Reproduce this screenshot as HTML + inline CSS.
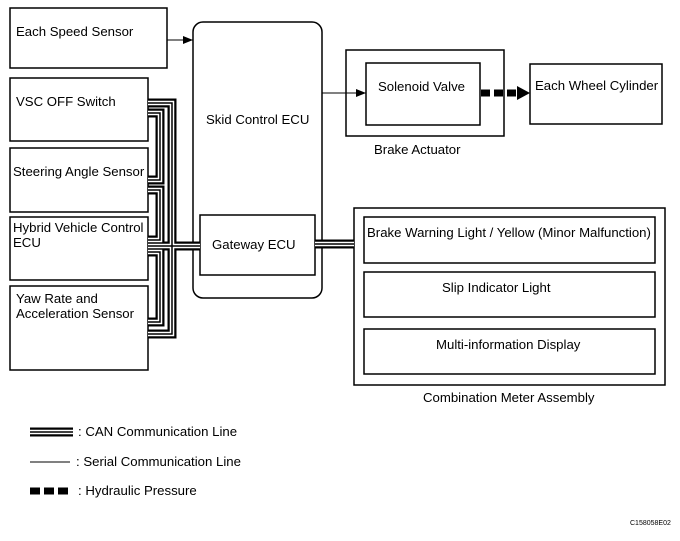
<!DOCTYPE html>
<html><head><style>
body{margin:0;background:#fff;}
svg text{font-family:"Liberation Sans",Arial,sans-serif;font-size:13.2px;fill:#000;}
</style></head><body>
<svg width="680" height="536" viewBox="0 0 680 536" xmlns="http://www.w3.org/2000/svg">
<defs>
<marker id="a" markerWidth="10" markerHeight="8" refX="10" refY="4" orient="auto" markerUnits="userSpaceOnUse"><path d="M0,0 L10,4 L0,8 z" fill="#000"/></marker>
</defs>
<g fill="none" stroke="#000" stroke-width="1.5">
<rect x="10" y="8" width="157" height="60"/>
<rect x="10" y="78" width="138" height="63"/>
<rect x="10" y="148" width="138" height="64"/>
<rect x="10" y="217" width="138" height="63"/>
<rect x="10" y="286" width="138" height="84"/>
<rect x="193" y="22" width="129" height="276" rx="10"/>
<rect x="200" y="215" width="115" height="60"/>
<rect x="346" y="50" width="158" height="86"/>
<rect x="366" y="63" width="114" height="62"/>
<rect x="530" y="64" width="132" height="60"/>
<rect x="354" y="208" width="311" height="177"/>
<rect x="364" y="217" width="291" height="46"/>
<rect x="364" y="272" width="291" height="45"/>
<rect x="364" y="329" width="291" height="45"/>
</g>
<g fill="none" stroke="#000" stroke-width="1">
<line x1="167" y1="40" x2="193" y2="40" marker-end="url(#a)"/>
<line x1="322" y1="93" x2="366" y2="93" marker-end="url(#a)"/>
<line x1="30" y1="462" x2="70" y2="462"/>
</g>
<g fill="none" stroke="#000" stroke-width="7">
<line x1="481" y1="93" x2="518" y2="93" stroke-dasharray="9,4"/>
<line x1="30" y1="491" x2="72" y2="491" stroke-dasharray="10,4"/>
</g>
<path d="M517,86 L530,93 L517,100 z" fill="#000"/>
<g fill="none" stroke-linejoin="miter">
<g stroke="#000" stroke-width="9">
<path d="M148,103 H172 V334 H148"/>
<path d="M148,113 H160 V180 H148"/>
<path d="M148,190 H160 V240 H148"/>
<path d="M148,252 H160 V322 H148"/>
<path d="M148,246 H200"/>
<path d="M315,244 H354"/>
<path d="M30,432 H73"/>
</g>
<g stroke="#fff" stroke-width="4.5">
<path d="M148,103 H172 V334 H148"/>
<path d="M148,113 H160 V180 H148"/>
<path d="M148,190 H160 V240 H148"/>
<path d="M148,252 H160 V322 H148"/>
<path d="M148,246 H200"/>
<path d="M315,244 H354"/>
<path d="M30,432 H73"/>
</g>
<g stroke="#000" stroke-width="1.5">
<path d="M148,103 H172 V334 H148"/>
<path d="M148,113 H160 V180 H148"/>
<path d="M148,190 H160 V240 H148"/>
<path d="M148,252 H160 V322 H148"/>
<path d="M148,246 H200"/>
<path d="M315,244 H354"/>
<path d="M30,432 H73"/>
</g>
</g>
<text x="16" y="36">Each Speed Sensor</text>
<text x="16" y="106">VSC OFF Switch</text>
<text x="13" y="176">Steering Angle Sensor</text>
<text x="13" y="232">Hybrid Vehicle Control</text>
<text x="13" y="247">ECU</text>
<text x="16" y="303">Yaw Rate and</text>
<text x="16" y="318">Acceleration Sensor</text>
<text x="206" y="124">Skid Control ECU</text>
<text x="212" y="249">Gateway ECU</text>
<text x="378" y="91">Solenoid Valve</text>
<text x="374" y="154">Brake Actuator</text>
<text x="535" y="90">Each Wheel Cylinder</text>
<text x="367" y="237">Brake Warning Light / Yellow (Minor Malfunction)</text>
<text x="442" y="292">Slip Indicator Light</text>
<text x="436" y="349">Multi-information Display</text>
<text x="423" y="402">Combination Meter Assembly</text>
<text x="78" y="436">: CAN Communication Line</text>
<text x="76" y="466">: Serial Communication Line</text>
<text x="78" y="495">: Hydraulic Pressure</text>
<text x="630" y="525" style="font-size:7px">C158058E02</text>
</svg>
</body></html>
